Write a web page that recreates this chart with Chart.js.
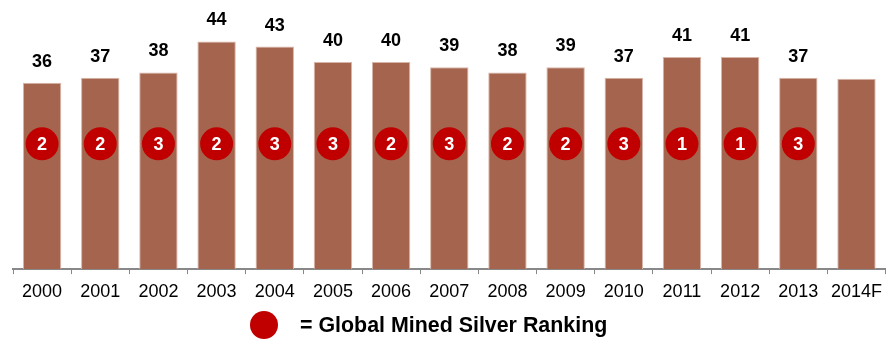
<!DOCTYPE html>
<html>
<head>
<meta charset="utf-8">
<script src="https://cdn.jsdelivr.net/npm/chart.js@4"></script>
<style>
  html, body { margin: 0; padding: 0; background: #fff; }
  #wrap { position: relative; width: 886px; height: 340px; }
  #legend {
    position: absolute; left: 250px; top: 311px;
    display: flex; align-items: center;
    font: bold 21.4px "Liberation Sans", Arial, sans-serif; color: #000;
  }
  #legend .dot {
    width: 28px; height: 28px; border-radius: 50%;
    background: #C00000; margin-right: 22px;
  }
</style>
</head>
<body>
<div id="wrap">
  <canvas id="silverChart" width="886" height="340"></canvas>
  <div id="legend"><span class="dot"></span><span>= Global Mined Silver Ranking</span></div>
</div>
<script>
// years on the x axis
const years = ["2000", "2001", "2002", "2003", "2004", "2005", "2006", "2007",
               "2008", "2009", "2010", "2011", "2012", "2013", "2014F"];
// output per year (2014F is a forecast, no label)
const output = [36, 37, 38, 44, 43, 40, 40, 39, 38, 39, 37, 41, 41, 37, 36.8];
const showValue = [true, true, true, true, true, true, true, true,
                   true, true, true, true, true, true, false];
// global ranking per year
const ranking = [2, 2, 3, 2, 3, 3, 2, 3, 2, 2, 3, 1, 1, 3, null];
// height on the value axis where the ranking badges sit
const badgeLevel = 24.2;

const FONT = '"Liberation Sans", Arial, sans-serif';

// value labels above bars + numbers inside the badges
const labelPlugin = {
  id: 'labelPlugin',
  afterDatasetsDraw(chart) {
    const ctx = chart.ctx;
    ctx.save();
    ctx.textAlign = 'center';
    ctx.textBaseline = 'middle';

    const bars = chart.getDatasetMeta(0).data;
    ctx.font = 'bold 18px ' + FONT;
    ctx.fillStyle = '#000';
    bars.forEach((bar, i) => {
      if (!showValue[i]) return;
      ctx.fillText(String(output[i]), bar.x, bar.y - 21);
    });

    const dots = chart.getDatasetMeta(1).data;
    ctx.font = 'bold 18px ' + FONT;
    ctx.fillStyle = '#fff';
    dots.forEach((pt, i) => {
      if (ranking[i] == null) return;
      ctx.fillText(String(ranking[i]), pt.x, pt.y + 1);
    });
    ctx.restore();
  }
};

new Chart(document.getElementById('silverChart'), {
  data: {
    labels: years,
    datasets: [
      {
        type: 'bar',
        data: output,
        backgroundColor: '#A5644E',
        borderColor: '#D9B5A8',
        borderWidth: { top: 1, left: 1, right: 1, bottom: 0 },
        categoryPercentage: 0.66,
        barPercentage: 1,
        order: 1
      },
      {
        type: 'line',
        data: ranking.map(r => r == null ? null : badgeLevel),
        showLine: false,
        pointRadius: 16.5,
        pointHoverRadius: 16.5,
        pointBackgroundColor: '#C00000',
        pointBorderWidth: 0,
        order: 0
      }
    ]
  },
  options: {
    responsive: false,
    animation: false,
    events: [],
    layout: { autoPadding: false, padding: { left: 13, right: 0, top: 0, bottom: 30 } },
    plugins: {
      legend: { display: false },
      tooltip: { enabled: false }
    },
    scales: {
      x: {
        grid: {
          offset: true,
          drawOnChartArea: false,
          drawTicks: true,
          tickLength: 5,
          color: '#888'
        },
        border: { display: true, color: '#888', width: 2 },
        ticks: {
          color: '#000',
          // taller line height drops the labels lower without widening the axis
          font: { family: FONT, size: 18, lineHeight: 1.55 },
          padding: 4,
          maxRotation: 0,
          autoSkip: false
        }
      },
      y: {
        display: false,
        min: 0,
        max: 52
      }
    }
  },
  plugins: [labelPlugin]
});
</script>
</body>
</html>
